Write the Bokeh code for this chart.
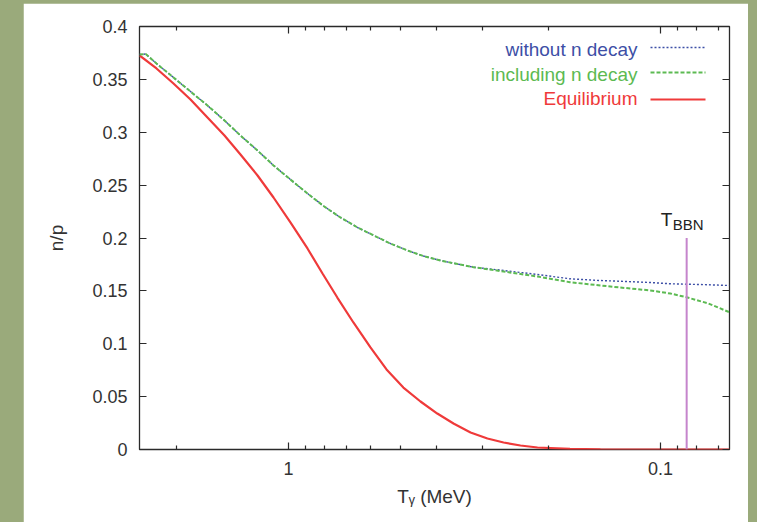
from bokeh.plotting import figure
from bokeh.models import (Range1d, FixedTicker, LogAxis, LinearAxis, Label, Arrow,
                          GlobalInlineStyleSheet)
from bokeh.embed import file_html
from bokeh.resources import INLINE

# ---- data ----
# Equilibrium n/p vs photon temperature (MeV)
T_eq = [2.515, 2.264, 2.038, 1.834, 1.651, 1.486, 1.346, 1.211, 1.097, 0.988, 0.889, 0.810,
        0.739, 0.669, 0.602, 0.545, 0.491, 0.4416, 0.398, 0.360, 0.324, 0.2918, 0.264, 0.2378,
        0.214, 0.175, 0.145, 0.12, 0.1, 0.08, 0.0652]
np_eq = [0.3726, 0.3603, 0.3461, 0.3310, 0.3139, 0.2969, 0.2790, 0.2591, 0.2383, 0.2147, 0.1901,
         0.1664, 0.1437, 0.1201, 0.0965, 0.0757, 0.0586, 0.0454, 0.0340, 0.0246, 0.0161, 0.0104,
         0.0066, 0.0038, 0.0019, 0.0005, 0.0001, 0.0, 0.0, 0.0, 0.0]

# Freeze-out including neutron decay
T_dec = [2.515, 2.42, 2.264, 2.038, 1.834, 1.651, 1.486, 1.346, 1.211, 1.097, 0.988, 0.889,
         0.805, 0.725, 0.652, 0.590, 0.532, 0.479, 0.434, 0.390, 0.351, 0.318, 0.264, 0.214,
         0.175, 0.145, 0.124, 0.1065, 0.094, 0.0851, 0.0743, 0.0652]
np_dec = [0.3735, 0.3740, 0.3650, 0.3518, 0.3385, 0.3253, 0.3111, 0.2969, 0.2827, 0.2686, 0.2553,
          0.2421, 0.2303, 0.2194, 0.2099, 0.2024, 0.1948, 0.1882, 0.1830, 0.1787, 0.1754, 0.1724,
          0.1683, 0.1636, 0.1582, 0.1551, 0.1527, 0.1504, 0.1475, 0.1440, 0.1381, 0.1298]

# Freeze-out without neutron decay
T_free = [2.515, 2.42, 2.264, 2.038, 1.834, 1.651, 1.486, 1.346, 1.211, 1.097, 0.988, 0.889,
          0.805, 0.725, 0.652, 0.590, 0.532, 0.479, 0.434, 0.390, 0.351, 0.318, 0.264, 0.214,
          0.175, 0.145, 0.124, 0.1065, 0.094, 0.078, 0.0652]
np_free = [0.3735, 0.3740, 0.3650, 0.3518, 0.3385, 0.3253, 0.3111, 0.2969, 0.2827, 0.2686, 0.2553,
           0.2421, 0.2303, 0.2194, 0.2099, 0.2024, 0.1948, 0.1882, 0.1830, 0.1787, 0.1754, 0.1724,
           0.1693, 0.1655, 0.1614, 0.1598, 0.1589, 0.1579, 0.1567, 0.1560, 0.1551]

# BBN temperature marker
T_bbn = [0.085]
bbn_top = [0.2]

# axis ticks
x_major = [1, 0.1]
x_major_labels = ["1", "0.1"]
x_minor = [2, 0.9, 0.8, 0.7, 0.6, 0.5, 0.4, 0.3, 0.2, 0.09, 0.08, 0.07]
y_ticks = [0, 0.05, 0.1, 0.15, 0.2, 0.25, 0.3, 0.35, 0.4]
y_tick_labels = ["0", "0.05", "0.1", "0.15", "0.2", "0.25", "0.3", "0.35", "0.4"]

series_names = ["without n decay", "including n decay", "Equilibrium"]

# ---- styles ----
FONT = "Liberation Sans"
BLUE = "#3d4fa6"
GREEN = "#5cba52"
RED = "#ef3a3a"
PURPLE = "#c585cc"
FRAME = "#2a2a2a"
TEXT = "#333333"

p = figure(width=725, height=519, x_axis_type="log",
           x_range=Range1d(2.515, 0.0652), y_range=Range1d(0, 0.4),
           output_backend="svg", toolbar_location=None,
           min_border_left=116, min_border_right=19, min_border_top=23, min_border_bottom=73)
p.margin = (3, 0, 0, 23)
p.stylesheets = [GlobalInlineStyleSheet(css="body{margin:0;background:#9aaa7b;overflow:hidden;}")]
p.background_fill_color = "white"
p.border_fill_color = "white"
p.outline_line_color = FRAME
p.outline_line_width = 1.3
p.grid.grid_line_color = None

xt = FixedTicker(ticks=x_major, minor_ticks=x_minor)
yt = FixedTicker(ticks=y_ticks, minor_ticks=[])


def style_axis(ax, labels=True):
    ax.axis_line_color = None
    ax.major_tick_in = 7
    ax.major_tick_out = 0
    ax.minor_tick_in = 4
    ax.minor_tick_out = 0
    ax.major_tick_line_color = FRAME
    ax.minor_tick_line_color = FRAME
    ax.major_tick_line_width = 1.2
    ax.minor_tick_line_width = 1.2
    ax.major_label_text_font = FONT
    ax.major_label_text_color = TEXT
    if labels:
        ax.major_label_text_font_size = "18px"
    else:
        ax.major_label_text_font_size = "1px"
        ax.major_label_text_alpha = 0
        ax.major_label_standoff = 0


xa = p.xaxis[0]
xa.ticker = xt
xa.major_label_overrides = dict(zip(x_major, x_major_labels))
style_axis(xa)
xa.major_label_standoff = 12
xa.axis_label = "T\u1d67 (MeV)"
xa.axis_label_text_font = FONT
xa.axis_label_text_font_style = "normal"
xa.axis_label_text_font_size = "19px"
xa.axis_label_text_color = TEXT
xa.axis_label_standoff = 8

ya = p.yaxis[0]
ya.ticker = yt
ya.major_label_overrides = dict(zip(y_ticks, y_tick_labels))
style_axis(ya)
ya.major_label_standoff = 12
ya.axis_label = "n/p"
ya.axis_label_text_font = FONT
ya.axis_label_text_font_style = "normal"
ya.axis_label_text_font_size = "19px"
ya.axis_label_text_color = TEXT
ya.axis_label_standoff = 22

top = LogAxis(ticker=xt)
style_axis(top, labels=False)
p.add_layout(top, "above")
right = LinearAxis(ticker=yt)
style_axis(right, labels=False)
p.add_layout(right, "right")

# ---- curves ----
p.line(T_eq, np_eq, line_color=RED, line_width=2.2)
p.line(T_free, np_free, line_color=BLUE, line_width=1.4, line_dash="2 2")
p.line(T_dec, np_dec, line_color=GREEN, line_width=2.0, line_dash="4 2")

# BBN marker
p.segment(x0=T_bbn, y0=[0], x1=T_bbn, y1=bbn_top, line_color=PURPLE, line_width=2)
p.add_layout(Label(x=T_bbn[0], y=bbn_top[0], text="T", x_offset=-26, y_offset=19,
                   text_font=FONT, text_font_size="19px", text_color="#222",
                   text_baseline="alphabetic"))
p.add_layout(Label(x=T_bbn[0], y=bbn_top[0], text="BBN", x_offset=-14, y_offset=14,
                   text_font=FONT, text_font_size="15px", text_color="#222",
                   text_baseline="alphabetic"))

# ---- legend (text right-aligned, sample to its right) ----
leg_colors = [BLUE, GREEN, RED]
leg_dash = ["2 2", "4 2", "solid"]
leg_width = [1.4, 2.0, 2.2]
leg_text_y = [400, 375.5, 351]
leg_line_y = [402, 377, 350]
for name, c, d, w, ty, ly in zip(series_names, leg_colors, leg_dash, leg_width, leg_text_y, leg_line_y):
    p.add_layout(Label(x=498, y=ty, x_units="screen", y_units="screen", text=name,
                       text_align="right", text_baseline="alphabetic",
                       text_font=FONT, text_font_size="19px", text_color=c))
    p.add_layout(Arrow(end=None, x_start=511, y_start=ly, x_end=566, y_end=ly,
                       start_units="screen", end_units="screen",
                       line_color=c, line_width=w, line_dash=d))

open("out.html", "w").write(file_html(p, INLINE))
